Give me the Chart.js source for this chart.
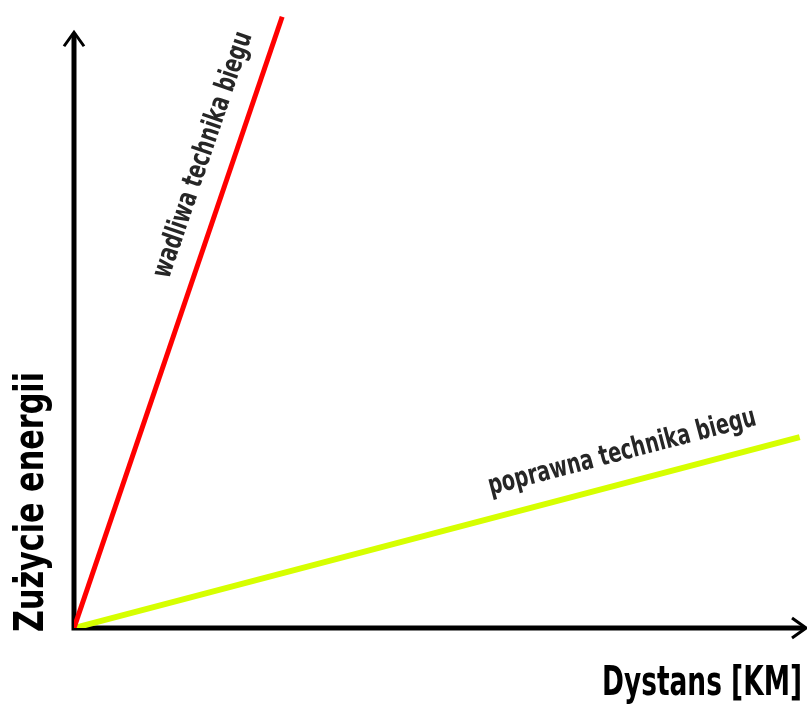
<!DOCTYPE html>
<html lang="pl">
<head>
<meta charset="utf-8">
<title>Zużycie energii a dystans</title>
<script src="https://cdn.jsdelivr.net/npm/chart.js@4"></script>
<style>
  html, body { margin: 0; padding: 0; background: #fff; }
  canvas { display: block; }
</style>
</head>
<body>
<canvas id="wykres" width="807" height="706"></canvas>
<script>
// dane wykresu (jednostki umowne, 0-100)
const seriesLabels = ['wadliwa technika biegu', 'poprawna technika biegu'];
const badX = [0, 28.4];
const badY = [0, 98.9];
const goodX = [0, 99];
const goodY = [0, 30.9];
const axisTitles = ['Dystans [KM]', 'Zużycie energii'];
const axisEnds = [100, 96.4]; // gdzie kończą się strzałki osi (x, y)

const condensed = '"Liberation Sans Narrow", "DejaVu Sans Condensed", "Roboto", sans-serif';

function toPoints(xs, ys) {
  return xs.map((x, i) => ({ x: x, y: ys[i] }));
}

// rysuje tekst ściśnięty/rozciągnięty do zadanej szerokości
function fitText(ctx, text, width) {
  const w = ctx.measureText(text).width;
  ctx.save();
  ctx.scale(width / w, 1);
  ctx.fillText(text, 0, 0);
  ctx.restore();
}

function arrowHead(ctx, x, y, angle) {
  ctx.save();
  ctx.translate(x, y);
  ctx.rotate(angle);
  ctx.beginPath();
  ctx.moveTo(-14, -10);
  ctx.lineTo(0, 0);
  ctx.lineTo(-14, 10);
  ctx.lineWidth = 3;
  ctx.strokeStyle = '#000';
  ctx.stroke();
  ctx.restore();
}

const axesPlugin = {
  id: 'osie',
  beforeDatasetsDraw(chart) {
    const ctx = chart.ctx;
    const sx = chart.scales.x, sy = chart.scales.y;
    const x0 = sx.getPixelForValue(0), y0 = sy.getPixelForValue(0);
    const xEnd = sx.getPixelForValue(axisEnds[0]) - 1;
    const yEnd = sy.getPixelForValue(axisEnds[1]);
    ctx.save();
    ctx.strokeStyle = '#000';
    ctx.lineWidth = 5;
    ctx.beginPath();
    ctx.moveTo(x0, y0 + 2.5);
    ctx.lineTo(x0, yEnd + 2);
    ctx.moveTo(x0 - 2.5, y0);
    ctx.lineTo(xEnd - 2, y0);
    ctx.stroke();
    ctx.restore();
    arrowHead(ctx, x0, yEnd, -Math.PI / 2);
    arrowHead(ctx, xEnd, y0, 0);
  },
  afterDatasetsDraw(chart) {
    const ctx = chart.ctx;
    const area = chart.chartArea;

    // tytuły osi
    ctx.save();
    ctx.fillStyle = '#000';
    ctx.font = 'bold 40px ' + condensed;
    ctx.textBaseline = 'alphabetic';
    ctx.save();
    ctx.translate(area.right - 5 - 200, 695);
    fitText(ctx, axisTitles[0], 200);
    ctx.restore();
    ctx.save();
    ctx.translate(43, 632);
    ctx.rotate(-Math.PI / 2);
    fitText(ctx, axisTitles[1], 260);
    ctx.restore();
    ctx.restore();

    // podpisy linii wzdłuż nich
    const widths = [258, 276];
    const along = [0.758, 0.766];
    chart.data.datasets.forEach((ds, i) => {
      const meta = chart.getDatasetMeta(i);
      const p0 = meta.data[0], p1 = meta.data[meta.data.length - 1];
      const dx = p1.x - p0.x, dy = p1.y - p0.y;
      const len = Math.hypot(dx, dy);
      const ux = dx / len, uy = dy / len;
      const cx = p0.x + ux * len * along[i] + uy * 30;
      const cy = p0.y + uy * len * along[i] - ux * 30;
      ctx.save();
      ctx.fillStyle = '#262626';
      ctx.font = 'bold 28px ' + condensed;
      ctx.textBaseline = 'middle';
      ctx.translate(cx, cy);
      ctx.rotate(Math.atan2(dy, dx));
      ctx.translate(-widths[i] / 2, 0);
      fitText(ctx, ds.label, widths[i]);
      ctx.restore();
    });
  }
};

new Chart(document.getElementById('wykres'), {
  type: 'scatter',
  data: {
    datasets: [
      {
        label: seriesLabels[0],
        data: toPoints(badX, badY),
        showLine: true,
        borderColor: '#ff0000',
        borderWidth: 5,
        pointRadius: 0
      },
      {
        label: seriesLabels[1],
        data: toPoints(goodX, goodY),
        showLine: true,
        borderColor: '#d6ff00',
        borderWidth: 6,
        pointRadius: 0
      }
    ]
  },
  options: {
    responsive: false,
    devicePixelRatio: 1,
    animation: false,
    layout: { padding: { left: 74, right: 0, top: 10, bottom: 78 } },
    plugins: {
      legend: { display: false },
      tooltip: { enabled: false }
    },
    scales: {
      x: { type: 'linear', min: 0, max: 100, display: false },
      y: { type: 'linear', min: 0, max: 100, display: false }
    }
  },
  plugins: [axesPlugin]
});
</script>
</body>
</html>
